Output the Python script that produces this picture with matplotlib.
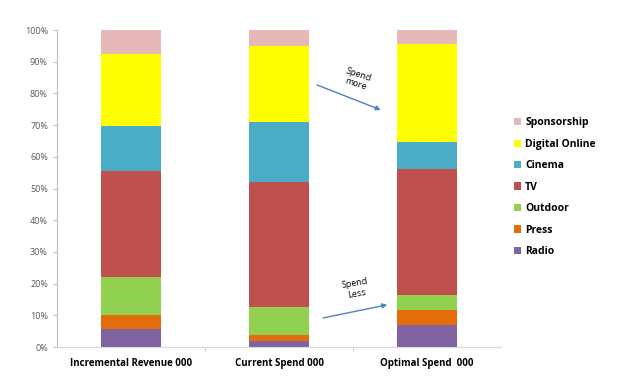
import numpy as np
import matplotlib.pyplot as plt
from matplotlib.ticker import PercentFormatter

categories = ["Incremental Revenue 000", "Current Spend 000", "Optimal Spend  000"]
channels = ["Radio", "Press", "Outdoor", "TV", "Cinema", "Digital Online", "Sponsorship"]
colors = ["#8064A2", "#E46C0A", "#92D050", "#C0504D", "#4BACC6", "#FFFF00", "#E6B9B8"]

# shares in % per channel (bottom to top)
radio = [5.6, 2.0, 6.8]
press = [4.5, 1.8, 4.8]
outdoor = [12.0, 8.7, 4.7]
tv = [33.4, 39.5, 39.8]
cinema = [14.2, 19.0, 8.5]
digital = [22.9, 24.0, 30.9]
sponsorship = [7.4, 5.0, 4.5]

values = [radio, press, outdoor, tv, cinema, digital, sponsorship]

plt.rcParams['font.family'] = ['Open Sans', 'DejaVu Sans']

fig = plt.figure(figsize=(6.21, 3.86), dpi=100)
ax = fig.add_axes([0.0918, 0.101, 0.715, 0.821])

x = np.arange(len(categories))
bottom = np.zeros(len(categories))
for name, vals, c in zip(channels, values, colors):
    ax.bar(x, vals, 0.405, bottom=bottom, color=c, label=name)
    bottom += np.array(vals)

ax.set_xlim(-0.5, 2.5)
ax.set_ylim(0, 100)
ax.set_yticks(np.arange(0, 101, 10))
ax.yaxis.set_major_formatter(PercentFormatter(decimals=0))
ax.tick_params(axis='y', labelsize=6.5, colors='#595959', length=3, color='#BFBFBF')
ax.set_xticks(x)
ax.set_xticklabels(categories, fontsize=7, fontweight='bold')
ax.set_xticks([0.5, 1.5], minor=True)
ax.tick_params(axis='x', which='major', length=0, pad=8)
ax.tick_params(axis='x', which='minor', length=3, color='#BFBFBF')

ax.spines['top'].set_visible(False)
ax.spines['right'].set_visible(False)
ax.spines['left'].set_color('#BFBFBF')
ax.spines['bottom'].set_color('#D9D9D9')

# arrows + notes
ax.annotate("", xy=(1.705, 74.5), xytext=(1.24, 83.0),
            arrowprops=dict(arrowstyle='-|>', color='#4F81BD', lw=1, mutation_scale=7))
ax.text(1.53, 84.5, "Spend\nmore", rotation=-18, fontsize=6.5, ha='center', va='center',
        linespacing=1.1)
ax.annotate("", xy=(1.75, 13.5), xytext=(1.28, 9.0),
            arrowprops=dict(arrowstyle='-|>', color='#4F81BD', lw=1, mutation_scale=7))
ax.text(1.52, 18.5, "Spend\nLess", rotation=10, fontsize=6.5, ha='center', va='center',
        linespacing=1.2)

handles, labels = ax.get_legend_handles_labels()
fig.legend(handles[::-1], labels[::-1], loc='upper left', bbox_to_anchor=(0.812, 0.72),
           frameon=False, prop={'weight': 'bold', 'size': 7.5},
           handlelength=0.7, handleheight=0.7, handletextpad=0.4, labelspacing=1.0)

fig.savefig("out.png", dpi=100)
